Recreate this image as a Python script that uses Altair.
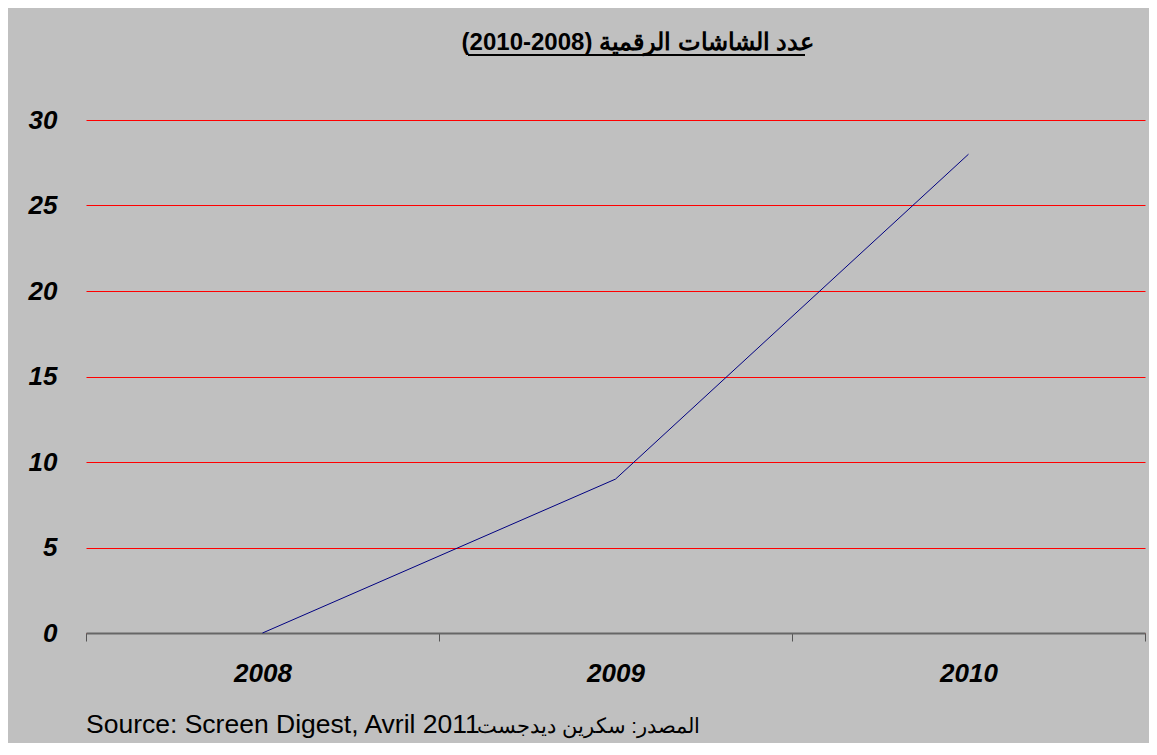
import altair as alt
import pandas as pd

years = ["2008", "2009", "2010"]
screens = [0, 9, 28]
y_ticks = [0, 5, 10, 15, 20, 25, 30]

title_text = "عدد الشاشات الرقمية (2008-2010)"
source_latin = "Source: Screen Digest, Avril 2011"
source_arabic = "المصدر: سكرين ديدجست"

df = pd.DataFrame({"year": years, "value": screens})
FONT = "Liberation Sans"
W, H = 1059, 513

line = alt.Chart(df).mark_line(color="#000080", strokeWidth=1).encode(
    x=alt.X("year:O", title=None, sort=years,
            scale=alt.Scale(paddingInner=0, paddingOuter=0),
            axis=alt.Axis(labelAngle=0, labelFont=FONT, labelFontSize=26,
                          labelFontWeight="bold", labelFontStyle="italic",
                          labelColor="black", labelPadding=19,
                          ticks=True, tickSize=8, tickColor="#555555",
                          tickBand="extent", domainColor="#666666",
                          domainWidth=2, grid=False)),
    y=alt.Y("value:Q", title=None,
            scale=alt.Scale(domain=[0, 30], nice=False),
            axis=alt.Axis(values=y_ticks, labelFont=FONT, labelFontSize=26,
                          labelFontWeight="bold", labelFontStyle="italic",
                          labelColor="black", labelPadding=29,
                          ticks=False, domain=False, grid=True,
                          gridColor="#FF0000", gridWidth=1, gridOpacity=1)),
)

one = alt.Data(values=[{"k": 1}])

title = alt.Chart(one).mark_text(
    text=title_text, font=FONT, fontSize=24, fontWeight="bold",
    color="black", align="center", baseline="alphabetic",
).encode(x=alt.value(552), y=alt.value(-70))

underline = alt.Chart(one).mark_rule(color="black", strokeWidth=2).encode(
    x=alt.value(382), x2=alt.value(719), y=alt.value(-65))

source_a = alt.Chart(one).mark_text(
    text=source_latin, font=FONT, fontSize=26.5, color="black",
    align="left", baseline="alphabetic",
).encode(x=alt.value(0), y=alt.value(H + 100))

source_b = alt.Chart(one).mark_text(
    text=source_arabic, font=FONT, fontSize=20.5, color="black",
    align="right", baseline="alphabetic",
).encode(x=alt.value(614), y=alt.value(H + 100))

chart = alt.layer(line, title, underline, source_a, source_b).properties(
    width=W, height=H,
    background="#C0C0C0",
    padding={"left": 78, "top": 112, "right": 4, "bottom": 110},
    autosize=alt.AutoSizeParams(type="none"),
).configure_view(stroke=None, fill="#C0C0C0")

chart.save("out.html", embed_options={"renderer": "svg", "actions": False})
